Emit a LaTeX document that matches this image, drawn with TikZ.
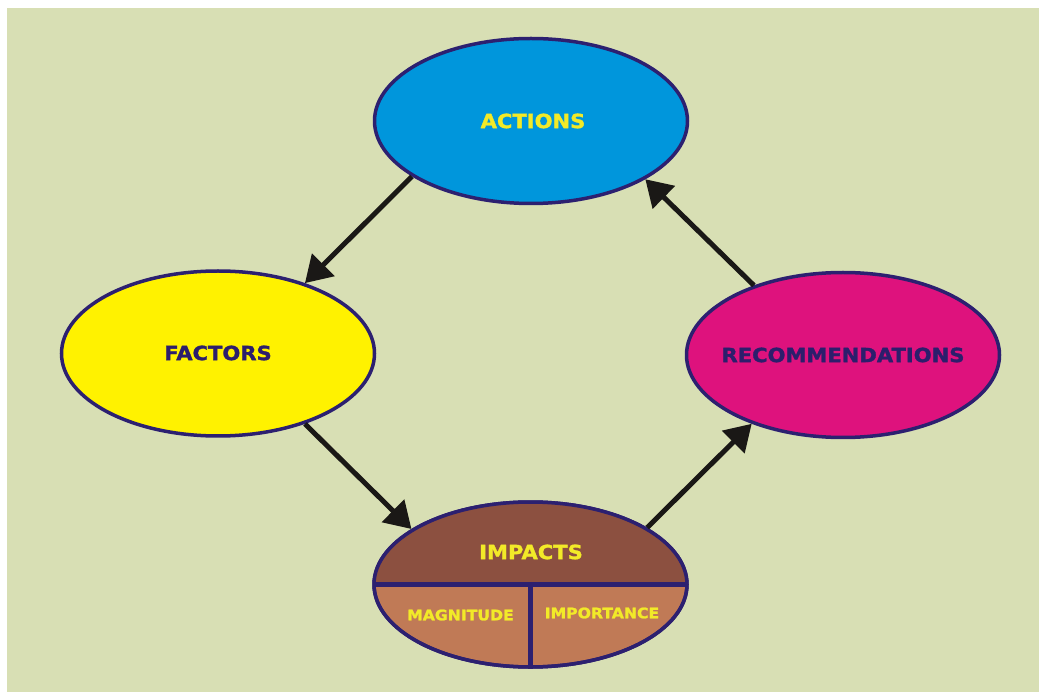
\documentclass[tikz,border=0pt]{standalone}
\usepackage{fontspec}
\newfontfamily\lblfont{DejaVu Sans Bold}[FakeStretch=1.08, FakeBold=1.6]
\usetikzlibrary{shapes.geometric,arrows.meta}
\definecolor{paper}{RGB}{216,223,180}
\definecolor{rim}{RGB}{44,32,112}
\definecolor{actblue}{RGB}{0,150,220}
\definecolor{facyellow}{RGB}{255,242,0}
\definecolor{recpink}{RGB}{222,18,125}
\definecolor{imptop}{RGB}{140,80,64}
\definecolor{impbot}{RGB}{192,122,86}
\definecolor{txtyellow}{RGB}{242,234,40}
\definecolor{txtnavy}{RGB}{44,30,108}
\definecolor{arrowblack}{RGB}{26,24,22}
\tikzset{
  oval/.style={ellipse, draw=rim, line width=3.5pt, inner sep=0pt,
    minimum width=313pt, minimum height=165pt},
  lbl/.style={font=\lblfont\fontsize{19.5}{20}\selectfont, inner sep=0pt},
  sublbl/.style={font=\lblfont\fontsize{14.5}{15}\selectfont, inner sep=0pt, text=txtyellow},
  ring/.style={draw=rim, line width=3.5pt},
  flow/.style={draw=arrowblack, line width=5pt, -{Triangle[length=26pt,width=31pt]}}
}
\begin{document}
\begin{tikzpicture}[x=1pt,y=-1pt]
      % page and background
      \useasboundingbox (0,0) rectangle (1039,692);
      \fill[paper] (7,8) rectangle (1039,692);
      % ovals
      \node[oval, fill=actblue] (actions) at (531,121) {};
      \node[oval, fill=facyellow] (factors) at (218,353.5) {};
      \node[oval, fill=recpink] (recs) at (843,355) {};
      \node[oval, fill=impbot] (impacts) at (530.5,584.5) {};
      % impacts split in three parts
      \fill[imptop] (impacts.center) ++(-156.5pt,0)
        arc[start angle=180, end angle=0, x radius=156.5pt, y radius=82.5pt] -- cycle;
      \draw[ring, line width=4.5pt] (impacts.center) ++(-156.5pt,0) -- ++(313pt,0);
      \draw[ring, line width=4.5pt] (impacts.center) -- (impacts.south);
      \draw[ring] (impacts.center) ellipse[x radius=156.5pt, y radius=82.5pt];
      % labels
      \node[lbl, text=txtyellow] (acttxt) at (533,121) {ACTIONS};
      \node[lbl, text=txtnavy] (factxt) at (218,353) {FACTORS};
      \node[lbl, text=txtnavy] (rectxt) at (843,355) {RECOMMENDATIONS};
      \node[lbl, text=txtyellow] (imptxt) at (531,552) {IMPACTS};
      \node[sublbl] (magtxt) at (460.5,615) {MAGNITUDE};
      \node[sublbl] (imptntxt) at (602,613) {IMPORTANCE};
      % cycle arrows
      \draw[flow] (actions.205) -- (factors.39);
      \draw[flow] (factors.321) -- (impacts.155);
      \draw[flow] (impacts.26) -- (recs.217);
      \draw[flow] (recs.142) -- (actions.333);
\end{tikzpicture}
\end{document}
